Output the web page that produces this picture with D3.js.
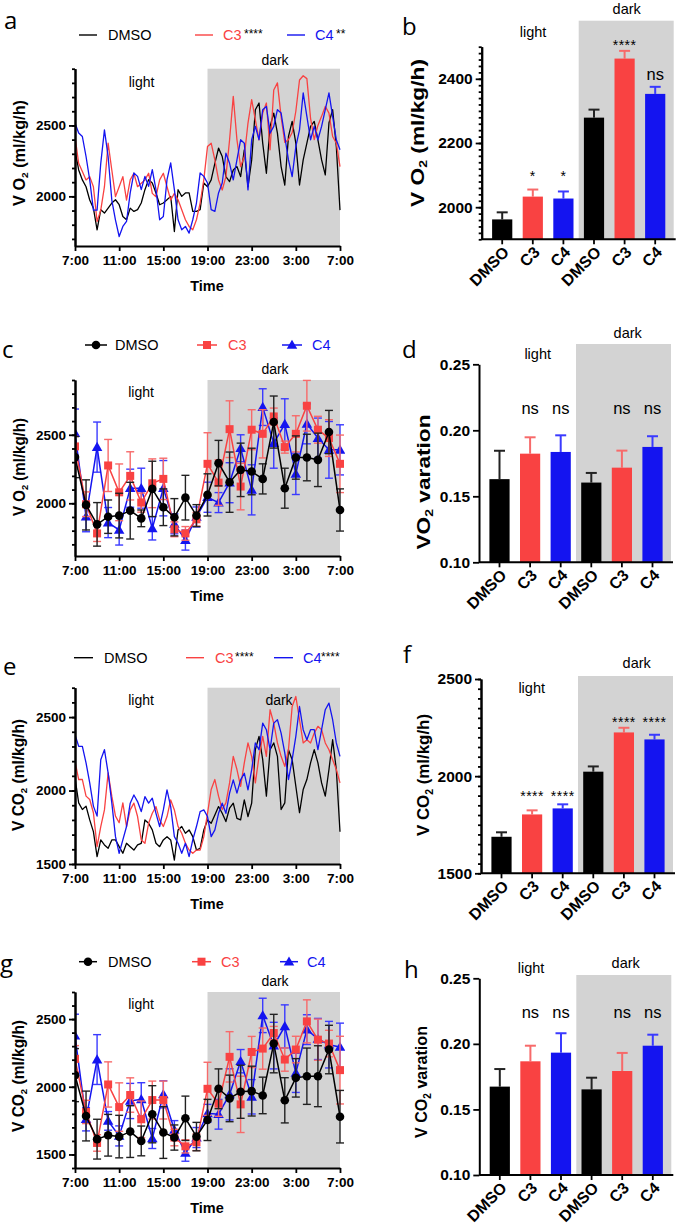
<!DOCTYPE html>
<html><head><meta charset="utf-8">
<script src="https://cdn.jsdelivr.net/npm/d3@7"></script>
<style>body{margin:0;background:#fff}svg{display:block}</style>
</head><body>
<script>
// ---------------- DATA ----------------
const timeTickLabels = ["7:00","11:00","15:00","19:00","23:00","3:00","7:00"];
const groups = ["DMSO","C3","C4"];
const barCategories = ["DMSO","C3","C4","DMSO","C3","C4"];

// panel a: VO2 traces (20-min intervals, 7:00 -> 7:00)
const vo2TraceDMSO = [2328,2186,2116,2068,1974,1917,1764,1906,1882,1917,1953,1976,1941,1858,1835,1917,1894,1906,1953,2047,2118,2094,2024,1941,1953,1976,2000,1752,2047,2000,2024,2024,1894,1894,1906,2094,2068,2116,2233,2340,2281,2139,2104,2186,2210,2139,2328,2068,2257,2611,2658,2375,2163,2493,2587,2446,2210,2080,2422,2528,2375,2080,2257,2375,2493,2528,2399,2257,2151,2517,2611,2351,1903];
const vo2TraceC3 = [2422,2233,2175,2116,2139,2068,1823,1903,2068,2375,2186,1998,2068,2139,1974,2116,2163,2068,2092,2116,2163,2021,1998,2116,2163,2068,1974,2021,1976,1906,1835,1788,1764,1835,1953,2118,2351,2375,2257,2116,2045,2139,2399,2705,2399,2210,2281,2517,2682,2540,2399,2587,2658,2328,2750,2800,2560,2380,2400,2450,2600,2820,2850,2830,2550,2400,2500,2564,2634,2587,2422,2375,2210];
const vo2TraceC4 = [2517,2446,2422,2281,2116,1903,1903,2233,2469,2281,1974,1833,1717,1788,1823,2024,2165,2141,2047,2141,2071,2189,2047,1835,1858,2118,2236,2047,1835,1764,1788,1741,1835,1953,2165,2141,2094,1906,1894,2024,2094,2304,2233,2116,2257,2399,2375,2045,2399,2493,2399,2611,2634,2446,2493,2611,2587,2422,2257,2139,2351,2469,2729,2564,2399,2493,2399,2493,2611,2729,2564,2399,2328];

// panel e: VCO2 traces
const vco2TraceDMSO = [2086,1916,1871,1894,1800,1720,1550,1664,1630,1607,1664,1664,1618,1573,1641,1618,1595,1630,1641,1800,1777,1732,1641,1618,1664,1686,1664,1527,1732,1755,1709,1732,1686,1595,1607,1732,1800,1777,1834,1891,1845,1789,1880,1914,1811,1800,1936,1823,1914,2278,2369,2210,1962,2278,2324,2233,1871,1916,2278,2210,2029,1849,2007,2075,2188,2278,2188,2052,1962,2143,2346,2143,1720];
const vco2TraceC3 = [2199,2075,2075,1962,1939,1849,1618,1755,1868,2120,1962,1826,1781,1916,1755,1868,1914,1823,1664,1641,1777,1845,1891,1800,1755,1823,1936,1868,1755,1709,1641,1595,1573,1595,1595,1686,1845,2007,2075,1962,1871,1916,2052,2233,2143,2029,2188,2324,2233,2052,2233,2369,2233,2550,2459,2324,2233,2165,2278,2572,2640,2482,2324,2346,2324,2391,2437,2414,2324,2278,2210,2143,2052];
const vco2TraceC4 = [2380,2301,2301,2188,2052,1894,1826,2210,2278,2120,1916,1686,1573,1664,1755,1914,1970,1925,1857,1959,1914,1948,1845,1755,1868,2005,1891,1686,1641,1573,1641,1550,1664,1755,1857,1868,1823,1686,1732,1845,1914,1845,1982,2073,1982,2073,2118,2005,2141,2324,2278,2459,2414,2278,2459,2482,2391,2256,2075,2210,2369,2572,2414,2346,2414,2414,2278,2414,2550,2595,2482,2324,2233];

// panel c: hourly VO2 mean ± error
const vo2HourDMSO    = [2337,1988,1846,1902,1910,1946,1890,2105,1971,1898,2041,1910,2061,2293,2154,2244,2232,2178,2593,2110,2334,2334,2317,2520,1951];
const vo2HourDMSOErr = [150,183,159,122,163,207,61,202,134,136,163,80,154,166,220,195,170,110,190,146,158,170,195,158,154];
const vo2HourC3      = [2415,1993,1780,2276,2080,2200,2005,2146,2178,1810,1780,1883,2288,2151,2541,2122,2537,2507,2634,2410,2507,2712,2537,2476,2288];
const vo2HourC3Err   = [73,90,59,190,207,176,70,178,151,54,50,50,227,166,207,170,146,176,61,44,132,185,98,134,210];
const vo2HourC4      = [2512,1902,2410,1859,1805,2110,2110,1817,2110,1850,1731,1900,2044,2005,2150,2402,2098,2702,2439,2578,2215,2580,2476,2390,2390];
const vo2HourC4Err   = [176,110,183,110,110,139,146,85,202,73,73,73,110,73,146,98,183,134,183,185,151,146,146,207,183];

// panel g: hourly VCO2 mean ± error
const vco2HourDMSO    = [2086,1784,1613,1642,1632,1669,1600,1797,1662,1625,1767,1632,1755,1985,1914,1963,1968,1936,2319,1900,2066,2078,2078,2275,1779];
const vco2HourDMSOErr = [196,184,147,154,157,191,110,211,191,93,164,105,152,147,172,196,184,135,216,167,142,208,225,179,194];
const vco2HourC3      = [2206,1814,1585,2017,1850,1939,1760,1902,1902,1625,1560,1590,1985,1875,2221,1870,2257,2282,2397,2201,2275,2483,2348,2319,2123];
const vco2HourC3Err   = [98,86,61,167,179,127,135,140,140,61,49,61,196,93,186,208,115,152,49,86,98,159,152,98,250];
const vco2HourC4      = [2377,1760,2201,1748,1637,1895,1907,1618,1944,1681,1511,1625,1804,1797,1944,2189,1926,2527,2304,2446,2103,2422,2353,2311,2294];
const vco2HourC4Err   = [159,86,184,69,74,130,123,74,100,69,61,74,66,110,189,86,127,127,172,159,145,110,152,172,176];

// bar panels (light DMSO,C3,C4, dark DMSO,C3,C4)
const vo2MeanBars   = [1962,2033,2027,2279,2463,2353];
const vo2MeanErr    = [22,22,22,25,24,22];
const vo2VarBars    = [0.163,0.1823,0.1836,0.1604,0.1717,0.1874];
const vo2VarErr     = [0.0215,0.0124,0.0126,0.0073,0.0129,0.0081];
const vco2MeanBars  = [1688,1803,1834,2023,2225,2189];
const vco2MeanErr   = [23,21,21,27,24,24];
const vco2VarBars   = [0.1674,0.1867,0.1933,0.1653,0.1793,0.1986];
const vco2VarErr    = [0.0134,0.0119,0.0148,0.0089,0.0138,0.0084];

const traceStars = {a:["","****","**"], e:["","****","****"]};

// ---------------- DRAW ----------------
const W = 680, H = 1232;
const FONT = "'Liberation Sans', Arial, Helvetica, sans-serif";
const COL = {DMSO:"#000000", C3:"#f94242", C4:"#1414f0"};
const ERRCOL = {DMSO:"#222222", C3:"#f76a6a", C4:"#3a3aff"};
const GRAY = "#d3d3d3";

const svg = d3.select("body").append("svg").attr("width", W).attr("height", H)
  .style("font-family", FONT);

function styleAxis(g, fs){
  g.attr("font-family", FONT).attr("font-size", fs);
  g.select(".domain").attr("stroke", "#000").attr("stroke-width", 2);
  g.selectAll(".tick line").attr("stroke", "#000").attr("stroke-width", 1.8);
  g.selectAll(".tick text").attr("fill", "#000").attr("font-weight", "bold");
}

function yLabel(cx, cy, len, size, parts){
  const t = svg.append("text").attr("transform", `translate(${cx},${cy}) rotate(-90)`)
    .attr("text-anchor", "middle").attr("dominant-baseline", "middle")
    .attr("font-weight", "bold").attr("font-size", size)
    .attr("textLength", len).attr("lengthAdjust", "spacingAndGlyphs");
  let shifted = false;
  parts.forEach(p => {
    const s = t.append("tspan").text(p[0]);
    if (p[1] === "sub") { s.attr("font-size", size * 0.62).attr("dy", size * 0.28); shifted = true; }
    else if (shifted) { s.attr("dy", -size * 0.28); shifted = false; }
  });
}

function txt(x, y, s, size, opts = {}){
  return svg.append("text").attr("x", x).attr("y", y).text(s)
    .attr("font-size", size).attr("text-anchor", opts.anchor || "middle")
    .attr("font-weight", opts.bold ? "bold" : "normal")
    .attr("fill", opts.fill || "#000")
    .attr("font-family", opts.family || FONT)
    .attr("letter-spacing", opts.ls || null);
}

function panelLetter(x, y, s){ txt(x, y, s, 24, {anchor:"start", family:"'Open Sans', 'Liberation Sans', sans-serif"}); }

function minorVals(dom, step){
  const out = [];
  for (let v = Math.ceil(dom[0] / step) * step; v <= dom[1] + 1e-9; v += step) out.push(+v.toFixed(6));
  return out;
}

// ---- line / time-course panels ----
function timePanel(o){
  const x = d3.scaleLinear().domain([0, 24]).range([75, 340]);
  const y = d3.scaleLinear().domain(o.domain).range([o.bottom, o.top]);
  svg.append("rect").attr("x", x(12)).attr("y", o.top).attr("width", x(24) - x(12))
    .attr("height", o.bottom - o.top).attr("fill", GRAY);
  txt(o.lightX, o.lightY, "light", 14);
  txt(o.darkX, o.darkY, "dark", 14);

  const clip = "clip" + o.id;
  svg.append("clipPath").attr("id", clip).append("rect")
    .attr("x", 75).attr("y", o.top - 30).attr("width", 270).attr("height", o.bottom - o.top + 40);
  const plot = svg.append("g").attr("clip-path", `url(#${clip})`);

  if (o.traces){
    const line = d3.line().x((d, i) => x(i / 3)).y(d => y(d));
    o.traces.forEach((s, k) => {
      plot.append("path").datum(s).attr("d", line).attr("fill", "none")
        .attr("stroke", COL[groups[k]]).attr("stroke-width", 1.3).attr("stroke-linejoin", "round");
    });
  }
  if (o.hourly){
    const line = d3.line().x((d, i) => x(i)).y(d => y(d));
    const order = [2, 1, 0];
    order.forEach(k => {
      const vals = o.hourly[k], errs = o.hourlyErr[k], c = COL[groups[k]], ec = ERRCOL[groups[k]];
      const eg = plot.append("g").attr("stroke", ec).attr("stroke-width", 1.4).attr("fill", "none");
      vals.forEach((v, i) => {
        const cx = x(i), y1 = y(v - errs[i]), y2 = y(v + errs[i]);
        eg.append("line").attr("x1", cx).attr("x2", cx).attr("y1", y1).attr("y2", y2);
        eg.append("line").attr("x1", cx - 4).attr("x2", cx + 4).attr("y1", y1).attr("y2", y1);
        eg.append("line").attr("x1", cx - 4).attr("x2", cx + 4).attr("y1", y2).attr("y2", y2);
      });
      plot.append("path").datum(vals).attr("d", line).attr("fill", "none")
        .attr("stroke", c).attr("stroke-width", 1.5);
      vals.forEach((v, i) => marker(plot, k, x(i), y(v)));
    });
  }

  // axes
  const ya = svg.append("g").attr("transform", "translate(75,0)")
    .call(d3.axisLeft(y).tickValues(minorVals(o.domain, o.minor)).tickSize(3).tickSizeOuter(0).tickFormat(""));
  styleAxis(ya, 13);
  const yb = svg.append("g").attr("transform", "translate(75,0)")
    .call(d3.axisLeft(y).tickValues(o.major).tickSize(6).tickSizeOuter(0).tickPadding(3).tickFormat(d3.format("d")));
  styleAxis(yb, 13.5);
  const xa = svg.append("g").attr("transform", `translate(0,${o.bottom})`)
    .call(d3.axisBottom(x).tickValues([0,4,8,12,16,20,24]).tickSize(5).tickSizeOuter(0).tickPadding(4)
      .tickFormat((d, i) => timeTickLabels[i]));
  styleAxis(xa, 13.5);
  txt(207, o.bottom + 45, "Time", 14.5, {bold:true});
}

function marker(g, k, cx, cy){
  const c = COL[groups[k]];
  if (k === 0) g.append("circle").attr("cx", cx).attr("cy", cy).attr("r", 4.3).attr("fill", c);
  else if (k === 1) g.append("rect").attr("x", cx - 4).attr("y", cy - 4).attr("width", 8).attr("height", 8).attr("fill", c);
  else g.append("path").attr("d", d3.symbol(d3.symbolTriangle, 48)()).attr("transform", `translate(${cx},${cy + 0.8})`).attr("fill", c);
}

function lineLegend(y, items, stars){
  items.forEach((it, k) => {
    svg.append("line").attr("x1", it[0]).attr("x2", it[1]).attr("y1", y).attr("y2", y)
      .attr("stroke", COL[groups[k]]).attr("stroke-width", 1.4);
    txt(it[2], y + 5, groups[k], 14.5, {anchor:"start", fill: COL[groups[k]]});
    if (stars && stars[k]) txt(it[3], y + 3, stars[k], 12, {anchor:"start"});
  });
}
function markerLegend(y, items){
  items.forEach((it, k) => {
    svg.append("line").attr("x1", it[0]).attr("x2", it[1]).attr("y1", y).attr("y2", y)
      .attr("stroke", COL[groups[k]]).attr("stroke-width", 1.5);
    marker(svg, k, (it[0] + it[1]) / 2, y);
    txt(it[2], y + 5, groups[k], 14.5, {anchor:"start", fill: COL[groups[k]]});
  });
}

// ---- bar panels ----
function barPanel(o){
  const x = d3.scaleBand().domain(d3.range(6)).range([o.ax, o.ax + 194]).paddingInner(0.34).paddingOuter(0.34);
  const y = d3.scaleLinear().domain(o.domain).range([o.bottom, o.top]);
  const gx0 = x(3) - x.step() * 0.34 / 2;
  svg.append("rect").attr("x", gx0).attr("y", o.grayTop).attr("width", o.ax + 192 - gx0)
    .attr("height", o.bottom - o.grayTop).attr("fill", GRAY);
  txt(o.lightX, o.lightY, "light", 14.5);
  txt(o.darkX, o.darkY, "dark", 14.5);

  o.values.forEach((v, i) => {
    const grp = barCategories[i], cx = x(i) + x.bandwidth() / 2;
    const top = y(v + o.errs[i]);
    svg.append("line").attr("x1", cx).attr("x2", cx).attr("y1", y(v)).attr("y2", top)
      .attr("stroke", ERRCOL[grp]).attr("stroke-width", 2);
    svg.append("line").attr("x1", cx - 5.5).attr("x2", cx + 5.5).attr("y1", top).attr("y2", top)
      .attr("stroke", ERRCOL[grp]).attr("stroke-width", 2);
    svg.append("rect").attr("x", x(i)).attr("y", y(v)).attr("width", x.bandwidth())
      .attr("height", o.bottom - y(v)).attr("fill", COL[grp]);
  });

  if (o.minor){
    const ym = svg.append("g").attr("transform", `translate(${o.ax},0)`)
      .call(d3.axisLeft(y).tickValues(minorVals(o.domain, o.minor)).tickSize(3).tickSizeOuter(0).tickFormat(""));
    styleAxis(ym, 15);
  }
  const ya = svg.append("g").attr("transform", `translate(${o.ax},0)`)
    .call(d3.axisLeft(y).tickValues(o.major).tickSize(6).tickSizeOuter(0).tickPadding(3).tickFormat(o.fmt));
  styleAxis(ya, 15.5);
  const xa = svg.append("g").attr("transform", `translate(0,${o.bottom})`)
    .call(d3.axisBottom(x).tickSize(5).tickSizeOuter(0).tickFormat(i => barCategories[i]));
  xa.select(".domain").attr("d", `M${o.ax},0H${o.ax + 194}`);
  styleAxis(xa, 16);
  xa.selectAll(".tick text").attr("x", null).attr("y", null).attr("dy", "0.35em")
    .attr("text-anchor", "end").attr("transform", "translate(4,10) rotate(-45)");

  o.annot.forEach(a => {
    const cx = x(a.i) + x.bandwidth() / 2;
    txt(cx, a.y, a.t, a.t === "ns" ? 16.5 : 14, {ls: a.t === "ns" ? null : "0.5px"});
  });
}

// ===== Panel a =====
panelLetter(4, 29, "a");
lineLegend(35, [[79, 97, 108, 0], [195, 213, 223, 244], [287, 305, 315, 336]], traceStars.a);
timePanel({id:"a", domain:[1650, 2900], top:68.7, bottom:246, major:[2000, 2500], minor:100,
  lightX:141.5, lightY:87, darkX:275, darkY:65, traces:[vo2TraceDMSO, vo2TraceC3, vo2TraceC4]});
yLabel(21, 153, 106, 16, [["V O"], ["2", "sub"], [" (ml/kg/h)"]]);

// ===== Panel b =====
panelLetter(402, 35, "b");
barPanel({ax:481.7, domain:[1900, 2500], top:46.7, bottom:239.3, grayTop:20.7, major:[2000, 2200, 2400], minor:20,
  fmt:d3.format("d"), values:vo2MeanBars, errs:vo2MeanErr,
  lightX:533, lightY:36.5, darkX:626.7, darkY:14,
  annot:[{i:1, t:"*", y:181}, {i:2, t:"*", y:181}, {i:4, t:"****", y:50}, {i:5, t:"ns", y:80}]});
yLabel(419, 133, 148, 18, [["V O"], ["2", "sub"], [" (ml/kg/h)"]]);

// ===== Panel c =====
panelLetter(2, 358, "c");
markerLegend(345, [[85, 107, 115], [197, 217, 228], [282, 302, 312]]);
timePanel({id:"c", domain:[1615, 2900], top:380, bottom:556, major:[2000, 2500], minor:100,
  lightX:141, lightY:397, darkX:275, darkY:374,
  hourly:[vo2HourDMSO, vo2HourC3, vo2HourC4], hourlyErr:[vo2HourDMSOErr, vo2HourC3Err, vo2HourC4Err]});
yLabel(21, 467, 98, 16, [["V O"], ["2", "sub"], [" (ml/kg/h)"]]);

// ===== Panel d =====
panelLetter(402, 358, "d");
barPanel({ax:479, domain:[0.10, 0.25], top:364.3, bottom:562.3, grayTop:344, major:[0.10, 0.15, 0.20, 0.25], minor:null,
  fmt:d3.format(".2f"), values:vo2VarBars, errs:vo2VarErr,
  lightX:537.7, lightY:359, darkX:627.7, darkY:338,
  annot:[{i:1, t:"ns", y:413.5}, {i:2, t:"ns", y:413.5}, {i:4, t:"ns", y:413.5}, {i:5, t:"ns", y:413.5}]});
yLabel(425, 482, 135, 18, [["VO"], ["2", "sub"], [" varation"]]);

// ===== Panel e =====
panelLetter(3, 675, "e");
lineLegend(657.7, [[74, 93, 104, 0], [186, 204, 215, 235], [274, 293, 303, 321]], traceStars.e);
timePanel({id:"e", domain:[1500, 2700], top:687.7, bottom:864, major:[1500, 2000, 2500], minor:100,
  lightX:141, lightY:705, darkX:279, darkY:705, traces:[vco2TraceDMSO, vco2TraceC3, vco2TraceC4]});
yLabel(20, 775, 112, 16, [["V CO"], ["2", "sub"], [" (ml/kg/h)"]]);

// ===== Panel f =====
panelLetter(403, 663, "f");
barPanel({ax:481, domain:[1500, 2500], top:679, bottom:873.3, grayTop:676, major:[1500, 2000, 2500], minor:50,
  fmt:d3.format("d"), values:vco2MeanBars, errs:vco2MeanErr,
  lightX:531.7, lightY:693, darkX:636.7, darkY:668,
  annot:[{i:1, t:"****", y:800.5}, {i:2, t:"****", y:800.5}, {i:4, t:"****", y:727}, {i:5, t:"****", y:727}]});
yLabel(425, 775, 122, 17, [["V CO"], ["2", "sub"], [" (ml/kg/h)"]]);

// ===== Panel g =====
panelLetter(0, 972, "g");
markerLegend(961.7, [[79, 97, 108], [192, 211, 221], [280, 298, 307]]);
timePanel({id:"g", domain:[1400, 2700], top:992, bottom:1168, major:[1500, 2000, 2500], minor:100,
  lightX:141, lightY:1009, darkX:275, darkY:986,
  hourly:[vco2HourDMSO, vco2HourC3, vco2HourC4], hourlyErr:[vco2HourDMSOErr, vco2HourC3Err, vco2HourC4Err]});
yLabel(20, 1076, 112, 16, [["V CO"], ["2", "sub"], [" (ml/kg/h)"]]);

// ===== Panel h =====
panelLetter(404, 978, "h");
barPanel({ax:479.3, domain:[0.10, 0.25], top:978.3, bottom:1175, grayTop:975, major:[0.10, 0.15, 0.20, 0.25], minor:null,
  fmt:d3.format(".2f"), values:vco2VarBars, errs:vco2VarErr,
  lightX:531, lightY:973, darkX:625.7, darkY:967.5,
  annot:[{i:1, t:"ns", y:1017.5}, {i:2, t:"ns", y:1017.5}, {i:4, t:"ns", y:1017.5}, {i:5, t:"ns", y:1017.5}]});
yLabel(423, 1082, 112, 16.5, [["V CO"], ["2", "sub"], [" varation"]]);
</script>
</body></html>
